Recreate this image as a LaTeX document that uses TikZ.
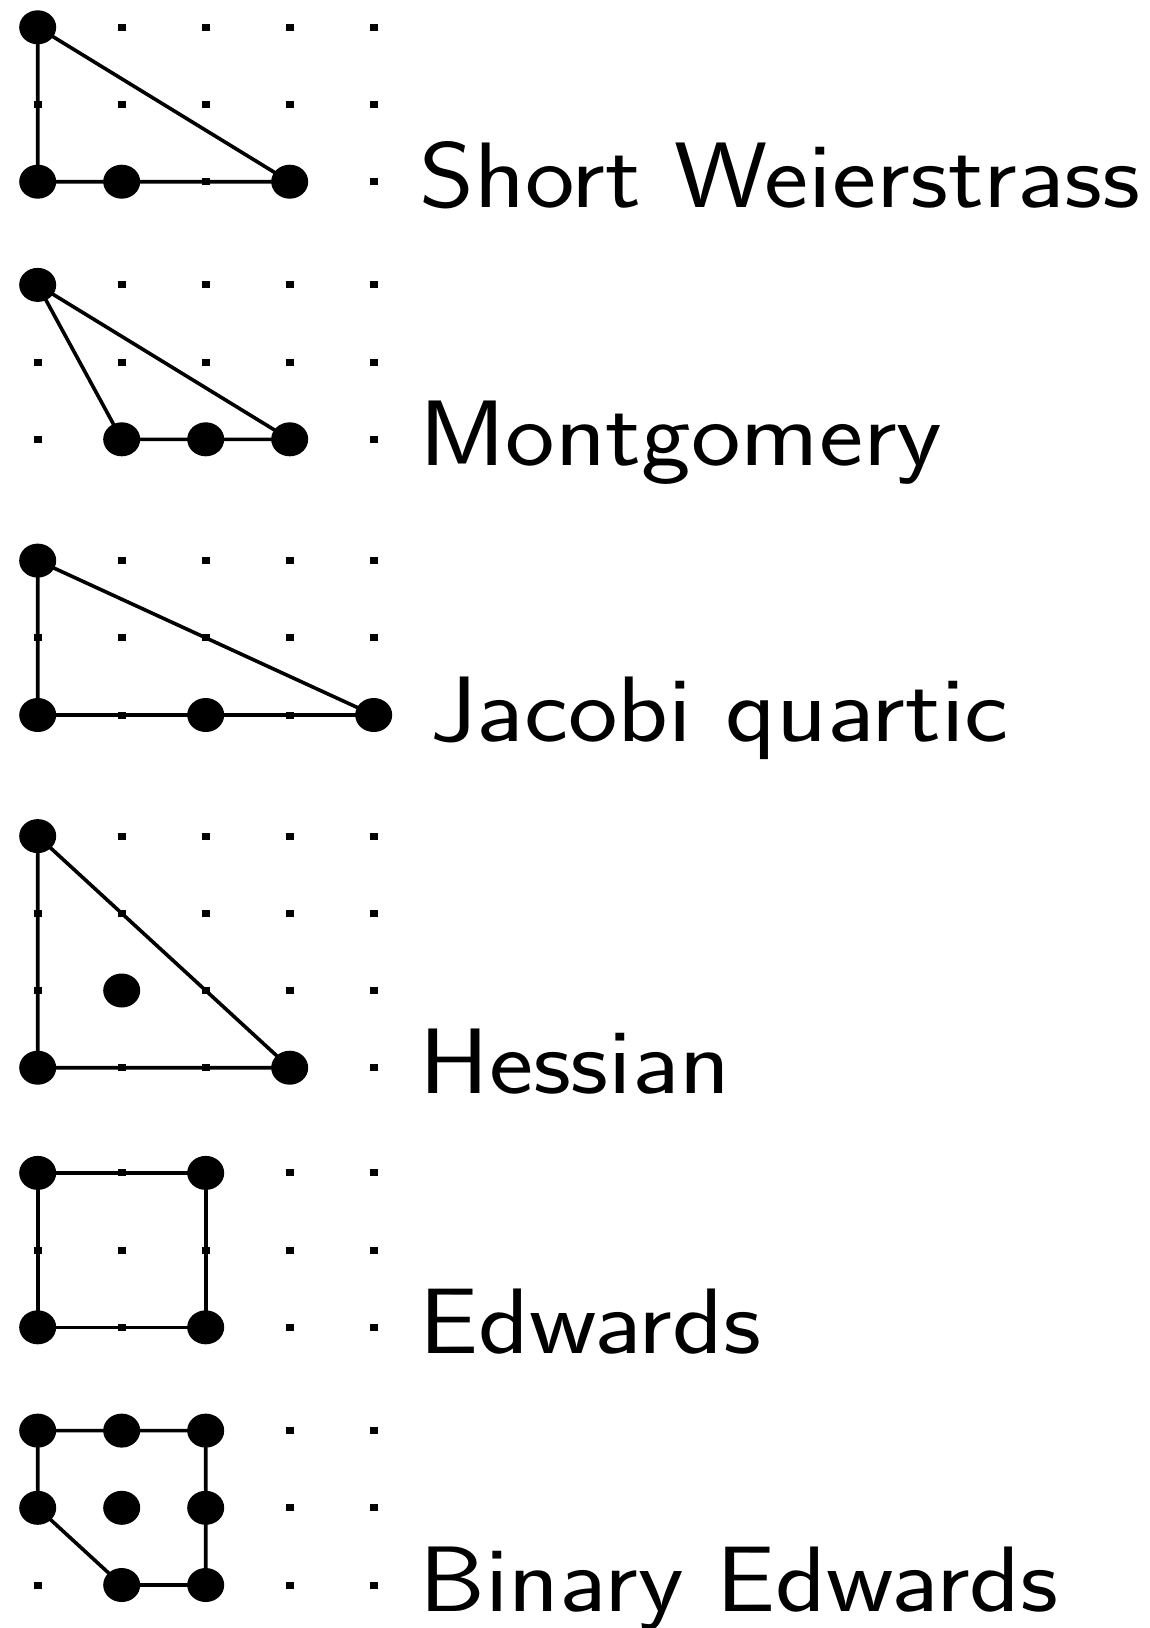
\documentclass[tikz,border=0pt]{standalone}
\usetikzlibrary{shapes.geometric}
\tikzset{
  bigdot/.style={ellipse, fill=black, minimum width=37pt, minimum height=34pt, inner sep=0pt},
  smalldot/.style={rectangle, fill=black, minimum width=7.7pt, minimum height=7pt, inner sep=0pt},
  hull/.style={line width=3.6pt, line join=round},
  lbl/.style={anchor=base west, inner sep=0pt, font=\fontsize{93}{100}\selectfont\sffamily}
}
\newcommand\widetext[1]{\scalebox{1.132}[1]{#1}}
\newcommand\dotgrid[3]{%
  \foreach \i in {0,...,4}{\foreach \j in {0,...,#3}{%
    \node[smalldot] (#1-\i-\j) at ({37.7+84*\i},{#2-77.2*\j}) {};}}}
\newcommand\bigat[2]{\foreach \p in {#2}{\node[bigdot] (#1b-\p) at (#1-\p) {};}}
\begin{document}
\begin{tikzpicture}[x=1pt,y=-1pt]
\useasboundingbox (0,0) rectangle (1150,1628);
% Short Weierstrass
\dotgrid{A}{181.7}{2}
\draw[hull] (A-0-2.center) -- (A-0-0.center) -- (A-3-0.center) -- cycle;
\bigat{A}{0-2,0-0,1-0,3-0}
\node[lbl] (tA) at (419,207.6) {\widetext{Short Weierstrass}};
% Montgomery
\dotgrid{B}{439.3}{2}
\draw[hull] (B-0-2.center) -- (B-1-0.center) -- (B-3-0.center) -- cycle;
\bigat{B}{0-2,1-0,2-0,3-0}
\node[lbl] (tB) at (419,465.3) {\widetext{Montgomery}};
% Jacobi quartic
\dotgrid{C}{715}{2}
\draw[hull] (C-0-2.center) -- (C-0-0.center) -- (C-4-0.center) -- cycle;
\bigat{C}{0-2,0-0,2-0,4-0}
\node[lbl] (tC) at (430,741) {\widetext{Jacobi quartic}};
% Hessian
\dotgrid{D}{1067.7}{3}
\draw[hull] (D-0-3.center) -- (D-0-0.center) -- (D-3-0.center) -- cycle;
\bigat{D}{0-3,0-0,3-0,1-1}
\node[lbl] (tD) at (419,1093.7) {\widetext{Hessian}};
% Edwards
\dotgrid{E}{1327.3}{2}
\draw[hull] (E-0-0.center) -- (E-2-0.center) -- (E-2-2.center) -- (E-0-2.center) -- cycle;
\bigat{E}{0-0,2-0,2-2,0-2}
\node[lbl] (tE) at (419,1353.3) {\widetext{Edwards}};
% Binary Edwards
\dotgrid{F}{1585}{2}
\draw[hull] (F-0-2.center) -- (F-2-2.center) -- (F-2-0.center) -- (F-1-0.center) -- (F-0-1.center) -- cycle;
\bigat{F}{0-2,1-2,2-2,0-1,1-1,2-1,1-0,2-0}
\node[lbl] (tF) at (419,1611) {\widetext{Binary Edwards}};
\end{tikzpicture}
\end{document}
